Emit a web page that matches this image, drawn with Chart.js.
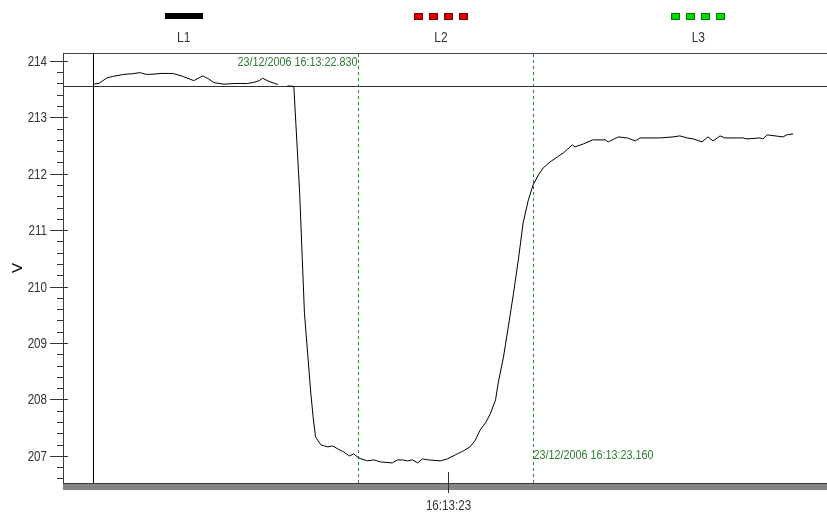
<!DOCTYPE html>
<html><head><meta charset="utf-8">
<script src="https://cdn.jsdelivr.net/npm/chart.js@4/dist/chart.umd.min.js"></script>
<style>html,body{margin:0;padding:0;background:#fff}#wrap{width:827px;height:517px}</style>
</head><body><div id="wrap"><canvas id="c" width="827" height="517"></canvas></div>
<script>
// ---- data ----
const seriesNames = ['L1', 'L2', 'L3'];
const seriesColors = ['#000000', '#e00000', '#00d800'];
const seriesEdge = ['#000000', '#7a0000', '#007a00'];
// seconds after 16:13:00 on 23/12/2006
const timeSeconds = [
  22.331, 22.340, 22.355, 22.366, 22.387, 22.404, 22.417, 22.429, 22.442, 22.457,
  22.472, 22.481, 22.498, 22.519, 22.536, 22.547, 22.557, 22.576, 22.593, 22.608,
  22.619, 22.632, 22.642, 22.649, 22.661, 22.678,
  22.687,
  22.696, 22.708, 22.719, 22.728, 22.740, 22.745, 22.749, 22.759, 22.772, 22.781,
  22.791, 22.802, 22.813, 22.821, 22.830, 22.847, 22.859, 22.872, 22.894, 22.904,
  22.913, 22.923, 22.932, 22.942, 22.951, 22.962, 22.985, 22.998, 23.013, 23.028,
  23.041, 23.051, 23.060, 23.070, 23.079, 23.089, 23.094, 23.104, 23.113, 23.123,
  23.132, 23.141, 23.151, 23.160, 23.170, 23.179, 23.192, 23.206, 23.217, 23.234,
  23.239, 23.255, 23.272, 23.296, 23.302, 23.321, 23.338, 23.353, 23.362, 23.381,
  23.400, 23.424, 23.437, 23.451, 23.462, 23.479, 23.490, 23.500, 23.513, 23.522,
  23.556, 23.564, 23.588, 23.594, 23.602, 23.632, 23.639, 23.651
];
const voltsL1 = [
  213.592, 213.601, 213.699, 213.725, 213.761, 213.773, 213.793, 213.761, 213.764, 213.778,
  213.778, 213.775, 213.725, 213.651, 213.734, 213.681, 213.615, 213.587, 213.598, 213.601,
  213.598, 213.619, 213.646, 213.693, 213.637, 213.580,
  null,
  213.557, 213.548, 211.661, 209.534, 208.117, 207.638, 207.337, 207.195, 207.160, 207.177,
  207.124, 207.071, 207.000, 207.036, 206.965, 206.912, 206.929, 206.894, 206.876, 206.929,
  206.929, 206.912, 206.929, 206.876, 206.947, 206.929, 206.912, 206.947, 207.018, 207.089,
  207.160, 207.284, 207.461, 207.585, 207.744, 207.993, 208.294, 208.755, 209.286, 209.889,
  210.474, 211.129, 211.537, 211.803, 211.980, 212.104, 212.210, 212.299, 212.370, 212.511,
  212.476, 212.529, 212.600, 212.600, 212.565, 212.653, 212.635, 212.582, 212.635, 212.635,
  212.635, 212.653, 212.671, 212.635, 212.618, 212.565, 212.653, 212.582, 212.671, 212.635,
  212.635, 212.618, 212.635, 212.618, 212.689, 212.653, 212.689, 212.706
];
const yRange = [206.52, 214.14];
const xRange = [22.272, 23.715];
const refLevel = 213.557;
const startCursor = 22.328;
const cursorTimes = [22.830, 23.160];
const cursorLabels = ['23/12/2006 16:13:22.830', '23/12/2006 16:13:23.160'];
const xTickValues = [23];
const xTickLabels = ['16:13:23'];
const yAxisTitle = 'V';

// ---- styling ----
const BASEFONT = "'Liberation Sans', Arial, sans-serif";
const GREEN_TXT = '#2e7d2e';
const GREEN_LINE = '#1e8c1e';

// narrow (Arial-Narrow-like) text drawn through a horizontal squeeze
function narrowText(ctx, text, x, y, size, align, color, squeeze) {
  ctx.save();
  ctx.font = size + 'px ' + BASEFONT;
  ctx.fillStyle = color;
  ctx.textBaseline = 'middle';
  ctx.textAlign = align;
  ctx.translate(x, y);
  ctx.scale(squeeze || 0.8, 1);
  ctx.fillText(text, 0, 0);
  ctx.restore();
}

const decor = {
  id: 'decor',
  beforeDatasetsDraw(chart) {
    const {ctx, chartArea: a, scales: {x, y}} = chart;
    const ln = (x1, y1, x2, y2, c, dash) => {
      ctx.beginPath(); ctx.setLineDash(dash || []); ctx.strokeStyle = c; ctx.lineWidth = 1;
      ctx.moveTo(x1, y1); ctx.lineTo(x2, y2); ctx.stroke(); ctx.setLineDash([]);
    };
    ctx.save();
    ln(a.left, a.top + 0.5, a.right, a.top + 0.5, '#4a4a4a');
    const yr = Math.round(y.getPixelForValue(refLevel)) + 0.5;
    ln(a.left, yr, a.right, yr, '#303030');
    const xs = Math.round(x.getPixelForValue(startCursor)) + 0.5;
    ln(xs, a.top, xs, a.bottom, '#000');
    cursorTimes.forEach((t, i) => {
      const px = Math.round(x.getPixelForValue(t)) + 0.5;
      ln(px, a.top + 1, px, a.bottom, GREEN_LINE, [3, 3]);
      if (i === 0) narrowText(ctx, cursorLabels[i], px - 1, a.top + 9, 13.5, 'right', GREEN_TXT, 0.8);
      else narrowText(ctx, cursorLabels[i], px, a.bottom - 28, 13.5, 'left', GREEN_TXT, 0.8);
    });
    ctx.restore();
  },
  afterDraw(chart) {
    const {ctx, chartArea: a, scales: {x, y}} = chart;
    const ln = (x1, y1, x2, y2, c) => {
      ctx.beginPath(); ctx.strokeStyle = c; ctx.lineWidth = 1;
      ctx.moveTo(x1, y1); ctx.lineTo(x2, y2); ctx.stroke();
    };
    ctx.save();
    ctx.fillStyle = '#858585';
    ctx.fillRect(a.left, a.bottom + 1, a.right - a.left, 6);
    y.ticks.forEach(t => {
      const py = Math.round(y.getPixelForValue(t.value)) + 0.5;
      const major = Math.abs(t.value - Math.round(t.value)) < 1e-6;
      if (major) {
        ln(a.left - 13, py, a.left + 5, py, '#333');
        narrowText(ctx, String(Math.round(t.value)), a.left - 16, py, 14.5, 'right', '#333', 0.8);
      } else ln(a.left - 6, py, a.left, py, '#333');
    });
    x.ticks.forEach((t, i) => {
      const px = Math.round(x.getPixelForValue(t.value)) + 0.5;
      ln(px, a.bottom - 11, px, a.bottom + 10, '#333');
      narrowText(ctx, xTickLabels[i], px, a.bottom + 23, 14.5, 'center', '#333', 0.8);
    });
    // legend
    const colW = (chart.width - (a.left - 8)) / chart.data.datasets.length;
    chart.data.datasets.forEach((ds, i) => {
      const cx = a.left - 8 + colW * (i + 0.5);
      if (!ds.borderDash || ds.borderDash.length === 0) {
        ctx.fillStyle = ds.borderColor;
        ctx.fillRect(Math.round(cx - 19), 13, 38, 6);
      } else {
        for (let k = 0; k < 4; k++) {
          const sx = Math.round(cx - 27 + k * 15);
          ctx.fillStyle = seriesEdge[i];
          ctx.fillRect(sx, 13, 9, 7);
          ctx.fillStyle = ds.borderColor;
          ctx.fillRect(sx + 1, 14, 7, 5);
        }
      }
      narrowText(ctx, ds.label, cx, 38, 15, 'center', '#333', 0.8);
    });
    ctx.restore();
  }
};

const points = timeSeconds.map((t, i) => ({x: t, y: voltsL1[i]}));

new Chart(document.getElementById('c'), {
  type: 'line',
  data: {
    datasets: [
      {label: seriesNames[0], data: points, borderColor: seriesColors[0], borderWidth: 1,
       pointRadius: 0, tension: 0, spanGaps: false},
      {label: seriesNames[1], data: [], borderColor: seriesColors[1], borderDash: [6, 6], borderWidth: 1, pointRadius: 0},
      {label: seriesNames[2], data: [], borderColor: seriesColors[2], borderDash: [6, 6], borderWidth: 1, pointRadius: 0}
    ]
  },
  options: {
    responsive: false,
    animation: false,
    devicePixelRatio: 1,
    layout: {padding: {top: 53, left: 0, right: 0, bottom: 0}},
    plugins: {legend: {display: false}, tooltip: {enabled: false}},
    scales: {
      x: {
        type: 'linear', min: xRange[0], max: xRange[1],
        afterFit: s => { s.height = 34; },
        afterBuildTicks: s => { s.ticks = xTickValues.map(v => ({value: v})); },
        grid: {display: false, drawTicks: false},
        border: {display: true, color: '#3a3a3a', width: 1},
        ticks: {display: false}
      },
      y: {
        type: 'linear', min: yRange[0], max: yRange[1],
        afterFit: s => { s.width = 63; },
        afterBuildTicks: s => {
          const out = [];
          for (let k = Math.ceil(yRange[0] * 5); k <= Math.floor(yRange[1] * 5); k++) out.push({value: k / 5});
          s.ticks = out;
        },
        grid: {display: false, drawTicks: false},
        border: {display: true, color: '#3a3a3a', width: 1},
        ticks: {display: false},
        title: {display: true, text: yAxisTitle, color: '#000', font: {family: BASEFONT, size: 15},
          padding: {top: 9, bottom: 0}}
      }
    }
  },
  plugins: [decor]
});
</script></body></html>
